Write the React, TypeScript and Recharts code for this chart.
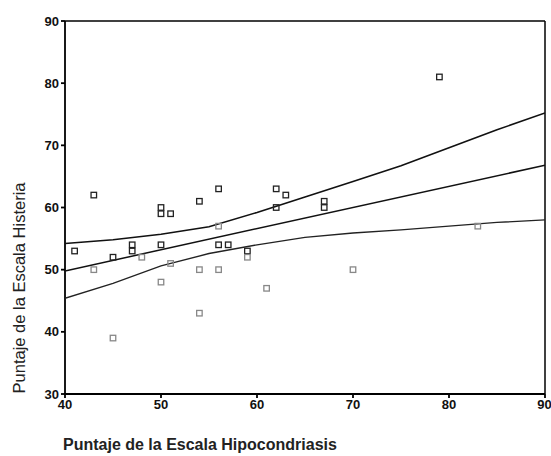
import React from 'react';
import { ScatterChart, Scatter, XAxis, YAxis, ReferenceLine } from 'recharts';

const darkX = [41, 43, 47, 47, 50, 50, 50, 51, 54, 56, 56, 57, 59, 62, 62, 63, 67, 67, 79, 45];
const darkY = [53, 62, 54, 53, 60, 59, 54, 59, 61, 63, 54, 54, 53, 63, 60, 62, 61, 60, 81, 52];
const lightX = [43, 45, 48, 50, 51, 54, 54, 56, 56, 59, 61, 70, 83];
const lightY = [50, 39, 52, 48, 51, 50, 43, 57, 50, 52, 47, 50, 57];

const bandX = [40, 45, 50, 55, 60, 65, 70, 75, 80, 85, 90];
const upperY = [54.2, 54.8, 55.7, 56.9, 59.2, 61.7, 64.2, 66.7, 69.6, 72.5, 75.2];
const lowerY = [45.4, 47.8, 50.6, 52.6, 54.0, 55.2, 55.9, 56.4, 57.0, 57.6, 58.0];
const fitX = [40, 90];
const fitY = [49.8, 66.8];

const xTicks = [40, 50, 60, 70, 80, 90];
const yTicks = [30, 40, 50, 60, 70, 80, 90];

const zip = (xs: number[], ys: number[]) => xs.map((x, i) => ({ x, y: ys[i] }));

const darkPts = zip(darkX, darkY);
const lightPts = zip(lightX, lightY);
const upper = zip(bandX, upperY);
const lower = zip(bandX, lowerY);
const fit = zip(fitX, fitY);

const FONT = '"Liberation Sans", Arial, sans-serif';

const square = (color: string) => (props: any) => {
  const { cx, cy } = props;
  if (cx == null || cy == null) return <g />;
  return (
    <rect x={cx - 2.75} y={cy - 2.75} width={5.5} height={5.5} fill="none" stroke={color} strokeWidth={1.3} />
  );
};

const noShape = () => <g />;

export default function App() {
  return (
    <div style={{ position: 'absolute', left: 0, top: 0, width: 551, height: 456, background: '#fff' }}>
      <ScatterChart width={551} height={456} margin={{ top: 21, right: 6, bottom: 42, left: 0 }}>
        <XAxis
          type="number"
          dataKey="x"
          domain={[40, 90]}
          ticks={xTicks}
          allowDataOverflow
          stroke="#000"
          strokeWidth={1.8}
          tickSize={4}
          height={20}
          tick={{ fill: '#111', fontSize: 13, fontWeight: 'bold', fontFamily: FONT }}
        />
        <YAxis
          type="number"
          dataKey="y"
          domain={[30, 90]}
          ticks={yTicks}
          allowDataOverflow
          stroke="#000"
          strokeWidth={1.8}
          tickSize={4}
          width={65}
          tick={{ fill: '#111', fontSize: 13, fontWeight: 'bold', fontFamily: FONT }}
        />
        <ReferenceLine y={90} stroke="#000" strokeWidth={1.5} />
        <ReferenceLine x={90} stroke="#000" strokeWidth={1.5} />
        <Scatter data={upper} line={{ stroke: '#111', strokeWidth: 1.6 }} lineType="joint" shape={noShape} isAnimationActive={false} />
        <Scatter data={fit} line={{ stroke: '#111', strokeWidth: 1.5 }} lineType="joint" shape={noShape} isAnimationActive={false} />
        <Scatter data={lower} line={{ stroke: '#222', strokeWidth: 1.3 }} lineType="joint" shape={noShape} isAnimationActive={false} />
        <Scatter data={darkPts} shape={square('#222')} isAnimationActive={false} />
        <Scatter data={lightPts} shape={square('#888')} isAnimationActive={false} />
      </ScatterChart>
      <svg width={551} height={456} style={{ position: 'absolute', left: 0, top: 0, pointerEvents: 'none' }}>
        <text
          x={0}
          y={0}
          transform="translate(25,288) rotate(-90)"
          textAnchor="middle"
          fontSize={16.5}
          fontFamily={FONT}
          fill="#222"
        >
          Puntaje de la Escala Histeria
        </text>
        <text x={63} y={450} fontSize={16} fontWeight="bold" fontFamily={FONT} fill="#222">
          Puntaje de la Escala Hipocondriasis
        </text>
      </svg>
    </div>
  );
}
